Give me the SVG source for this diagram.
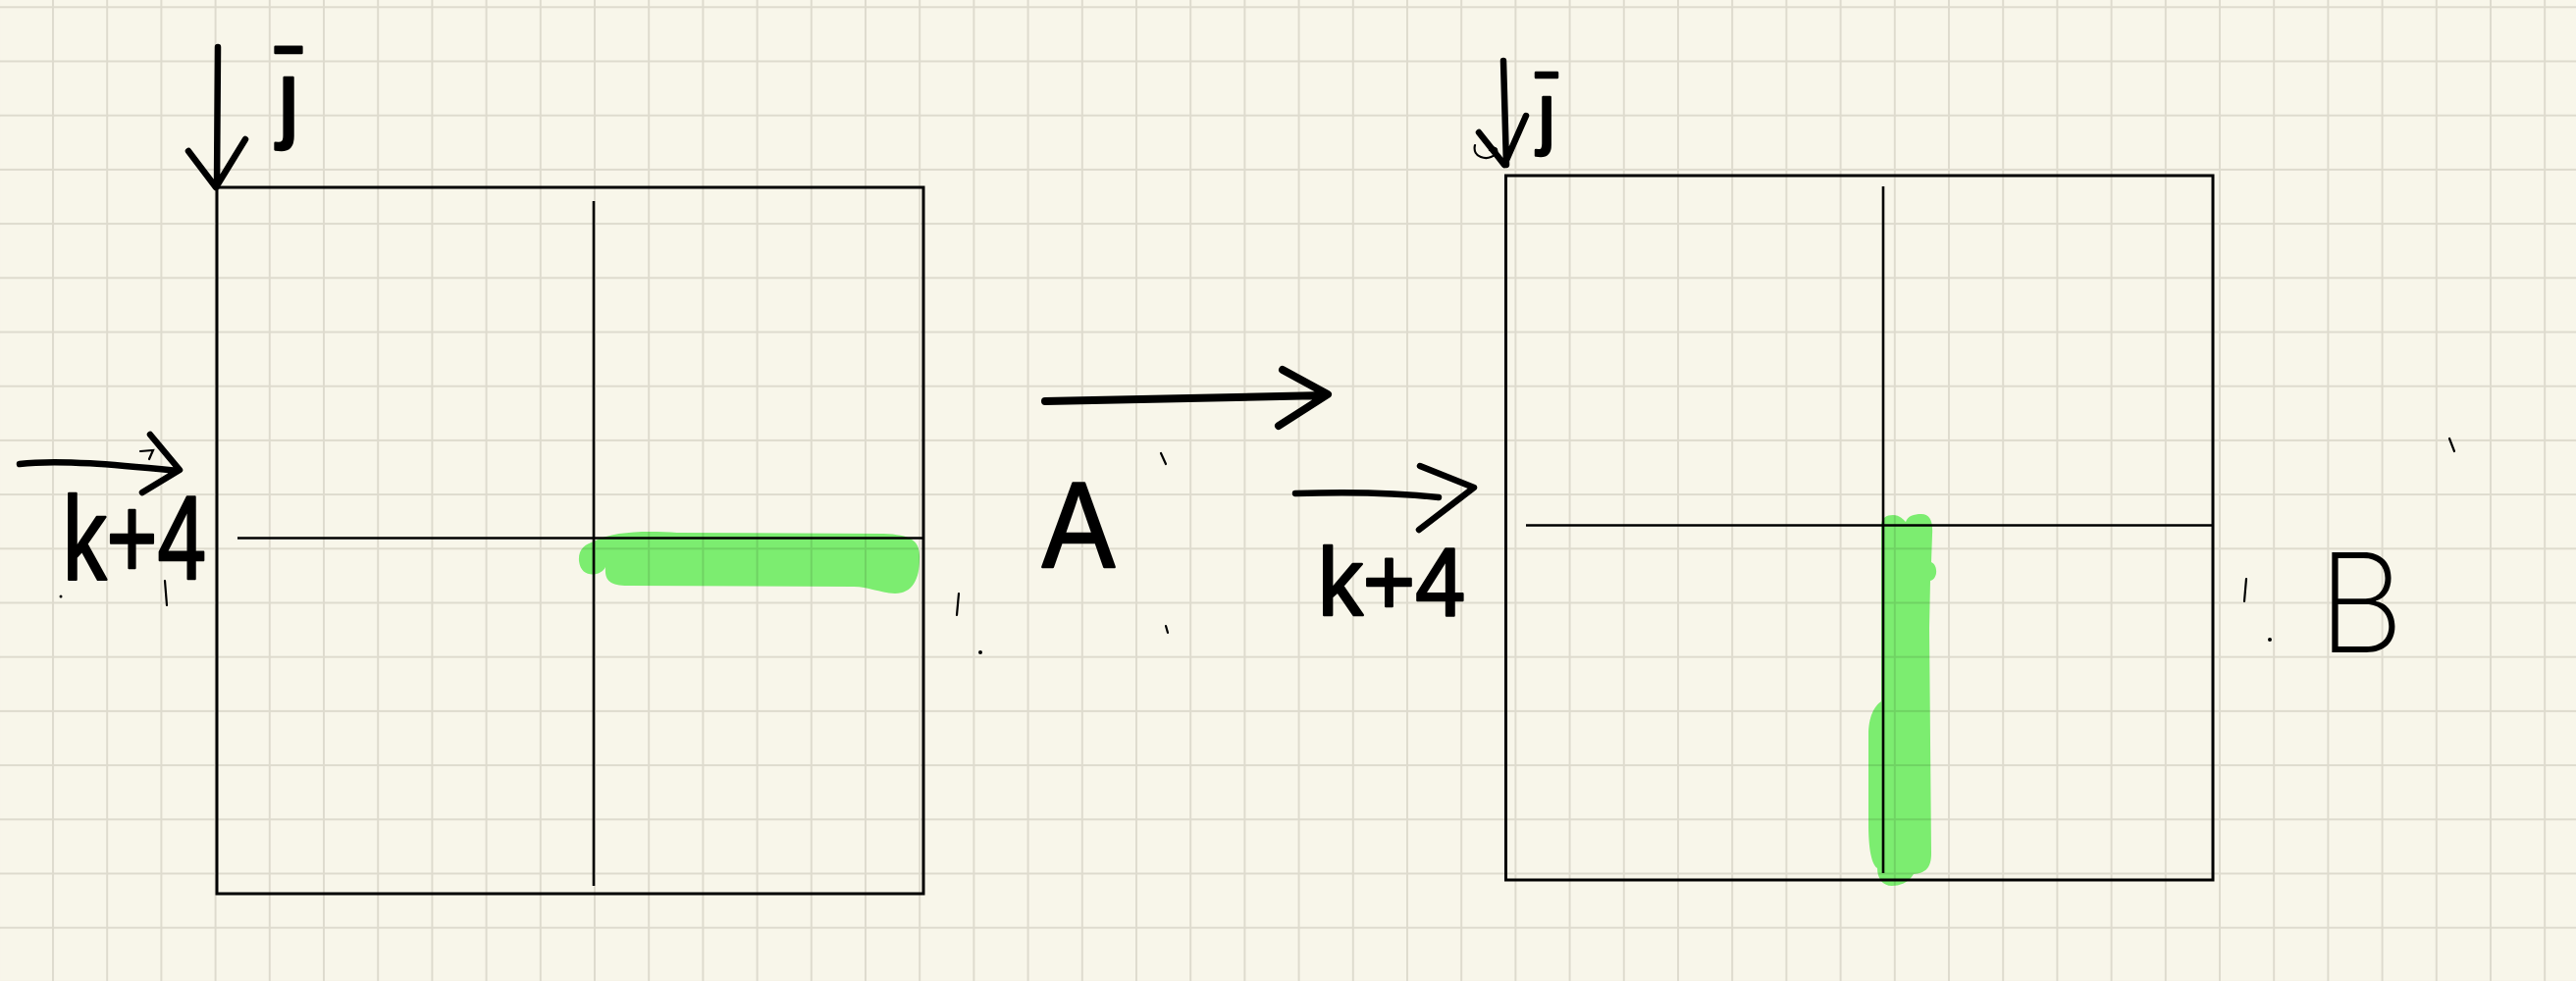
<svg xmlns="http://www.w3.org/2000/svg" width="2625" height="1000" viewBox="0 0 2625 1000">
<style>
.ink{fill:none;stroke:#000;stroke-linecap:round;stroke-linejoin:round}
.box{fill:none;stroke:#000;stroke-width:3}
.mid{stroke:#000;stroke-width:2.6}
.hl{fill:#80f67a;mix-blend-mode:multiply}
.lbl{font-family:"Liberation Sans",Arial,sans-serif;fill:#000;stroke:#000;stroke-width:2.5;stroke-linejoin:round}
.thin{fill:none;stroke:#000;stroke-width:2.2;stroke-linecap:round}
</style>
<defs>
<pattern id="grid" patternUnits="userSpaceOnUse" x="53" y="6.3" width="55.2" height="55.2">
<rect x="0" y="0" width="2" height="55.2" fill="#dedbce"/>
<rect x="0" y="0" width="55.2" height="2" fill="#dedbce"/>
</pattern>
</defs>
<rect width="2625" height="1000" fill="#f8f6ea"/>
<rect width="2625" height="1000" fill="url(#grid)"/>

<g id="matrix-a">
<path class="hl" d="M 605 552 C 625 541, 660 541, 690 543 L 900 544 C 930 545, 938 552, 937 570 C 937 590, 930 605, 912 605 C 895 604, 885 598, 870 598 L 640 597 C 620 597, 616 590, 617 578 C 612 588, 592 590, 590 572 C 589 560, 596 555, 605 552 Z"/>
<rect class="box" x="221" y="191" width="720" height="720"/>
<line class="mid" x1="605" y1="205" x2="605" y2="903"/>
<line class="mid" x1="242" y1="548.5" x2="941" y2="548.5"/>
</g>

<g id="matrix-b">
<path class="hl" d="M 1917 540 C 1916 528, 1922 525, 1929 525 C 1936 525, 1940 530, 1942 532 C 1944 526, 1950 524, 1958 524 C 1966 524, 1970 530, 1969 545 L 1968 573 C 1975 576, 1975 590, 1967 592 L 1966 640 L 1968 870 C 1968 885, 1962 890, 1950 891 C 1945 900, 1935 903, 1928 903 C 1918 903, 1913 895, 1913 885 C 1906 880, 1904 860, 1904 840 L 1904 750 C 1904 730, 1910 720, 1917 715 Z"/>
<rect class="box" x="1534.5" y="179" width="720.5" height="718"/>
<line class="mid" x1="1919" y1="190" x2="1919" y2="890"/>
<line class="mid" x1="1555" y1="535.5" x2="2255" y2="535.5"/>
</g>

<g id="connectors">
<path class="ink" stroke-width="6.5" d="M 222 48 L 221 190 M 192 154 L 220 191 L 250 142"/>
<path class="ink" stroke-width="6.5" d="M 20 473 C 60 468, 120 474, 181 480 M 153 443 L 183 479 L 145 502"/>
<path class="ink" stroke-width="8" d="M 1065 409 L 1350 403 M 1307 377 L 1353 402 L 1303 434"/>
<path class="ink" stroke-width="6.5" d="M 1532 62 L 1535 168 M 1507 135 L 1533 168 L 1555 118"/>
<path class="ink" stroke-width="6.5" d="M 1320 503 C 1380 501, 1430 503, 1466 507 M 1447 475 L 1502 497 L 1446 540"/>
</g>

<g id="labels">
<text class="lbl" x="294" y="132" font-size="100" text-anchor="middle">ȷ̄</text>
<text class="lbl" x="64" y="590" font-size="120" textLength="146" lengthAdjust="spacingAndGlyphs">k+4</text>
<text class="lbl" x="1062" y="578" font-size="125" textLength="74" lengthAdjust="spacingAndGlyphs">A</text>
<text class="lbl" x="1576" y="142" font-size="82" text-anchor="middle">ȷ̄</text>
<text class="lbl" x="1343" y="627" font-size="98" textLength="150" lengthAdjust="spacingAndGlyphs">k+4</text>
<text x="2362" y="665" font-size="140" font-family="Inter, 'Liberation Sans', sans-serif" font-weight="200" textLength="88" lengthAdjust="spacingAndGlyphs">B</text>
</g>

<g id="marks">
<path class="thin" d="M 143 460 L 156 459 L 152 468"/>
<path class="thin" d="M 168 592 L 170 617"/>
<circle cx="62" cy="608" r="1.5"/>
<path class="thin" d="M 977 605 L 975 627"/>
<circle cx="999" cy="665" r="2"/>
<path class="thin" stroke-width="3" d="M 1183 462 L 1188 473"/>
<path class="thin" d="M 1188 638 L 1190 645"/>
<path class="thin" d="M 1503 148 C 1500 160, 1515 165, 1524 157 C 1528 152, 1522 148, 1518 153"/>
<path class="thin" d="M 2289 590 L 2287 613"/>
<circle cx="2313" cy="652" r="2"/>
<path class="thin" stroke-width="3" d="M 2496 447 L 2501 460"/>
</g>
</svg>
